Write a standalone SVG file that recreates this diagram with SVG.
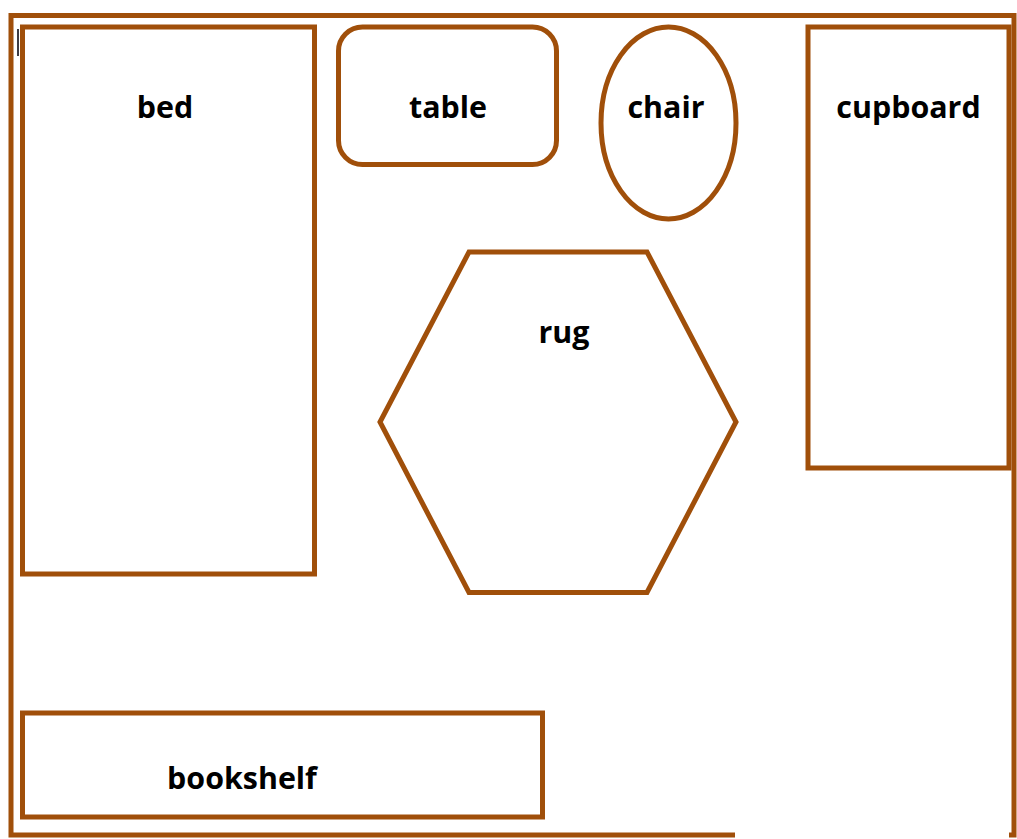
<svg xmlns="http://www.w3.org/2000/svg" width="1017" height="839" viewBox="0 0 1017 839">
<style>
.s{fill:none;stroke:#a04f0a;stroke-width:5}
.t{font-family:"Open Sans","Noto Sans",sans-serif;font-weight:700;font-size:30.400px;fill:#000;text-anchor:middle}
</style>
<rect width="1017" height="839" fill="#fff"/>
<g id="walls">
<path class="s" d="M735 835H11V15.500H1014V835H1009"/>
</g>
<rect id="cursor" x="17" y="29" width="2" height="27" fill="#3c3c44"/>
<g id="bed"><rect class="s" x="22.500" y="27" width="292" height="547"/><text class="t" x="165" y="118">bed</text></g>
<g id="table"><rect class="s" x="338.500" y="27" width="218" height="137.500" rx="24"/><text class="t" x="448" y="118">table</text></g>
<g id="chair"><ellipse class="s" cx="668.500" cy="123" rx="67.500" ry="96"/><text class="t" x="666" y="118">chair</text></g>
<g id="cupboard"><rect class="s" x="808" y="27" width="201" height="441"/><text class="t" x="908.500" y="118">cupboard</text></g>
<g id="rug"><polygon class="s" points="469,252 647,252 736,422 647,592.500 469,592.500 380,422"/><text class="t" x="564" y="343">rug</text></g>
<g id="bookshelf"><rect class="s" x="22.500" y="713" width="520" height="104"/><text class="t" x="242" y="789">bookshelf</text></g>
<g id="connectors"/>
</svg>
